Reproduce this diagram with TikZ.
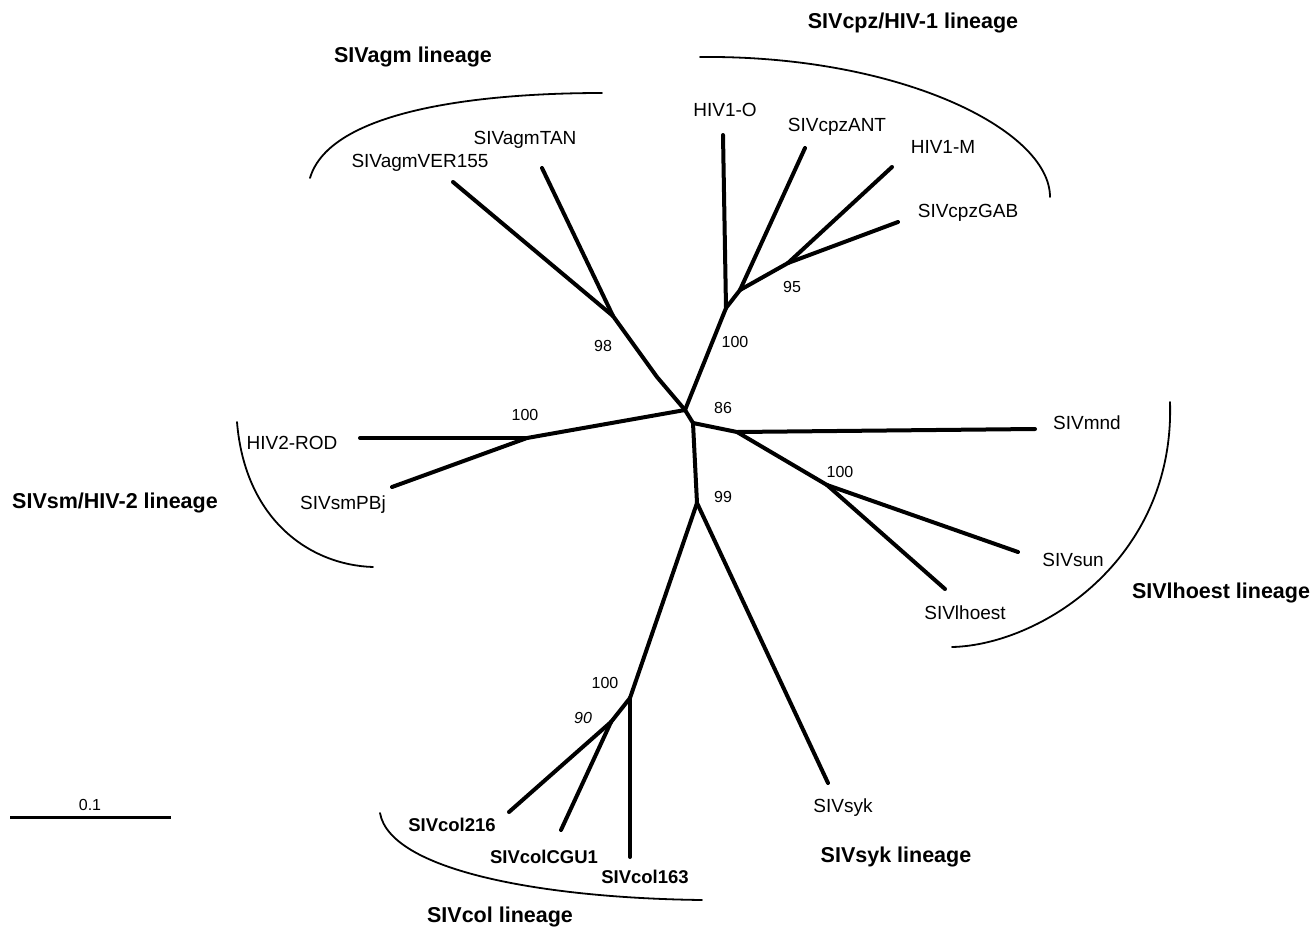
\documentclass[tikz,border=0pt]{standalone}
\usepackage{fontspec}
\setmainfont{Liberation Sans}
\begin{document}
\begin{tikzpicture}[x=1pt,y=-1pt,
  branch/.style={line width=4pt,line cap=round,line join=round},
  arcline/.style={line width=1.8pt,line cap=round},
  leaf/.style={font=\fontsize{19}{22}\selectfont,inner sep=0pt},
  leafb/.style={font=\fontsize{18.5}{22}\selectfont\bfseries,inner sep=0pt},
  lineage/.style={font=\fontsize{21.5}{25}\selectfont\bfseries,inner sep=0pt},
  boot/.style={font=\fontsize{16}{19}\selectfont,inner sep=0pt}]
\useasboundingbox (0,0) rectangle (1314,926);
% internal nodes and tips
\coordinate (A) at (685,410);
\coordinate (B) at (693,423);
\coordinate (agmBend) at (657,377);
\coordinate (agm98) at (613,316);
\coordinate (verTip) at (453,182);
\coordinate (tanTip) at (542,168);
\coordinate (cpz100) at (726,308);
\coordinate (hivoTip) at (723,135);
\coordinate (cpzN) at (740,290);
\coordinate (antTip) at (805,148);
\coordinate (n95) at (788,263);
\coordinate (hivmTip) at (892,167);
\coordinate (gabTip) at (898,222);
\coordinate (hivtwoN) at (527,438);
\coordinate (rodTip) at (360,438);
\coordinate (pbjTip) at (392,487);
\coordinate (n86) at (737,432);
\coordinate (mndTip) at (1035,429);
\coordinate (lh100) at (827,485);
\coordinate (sunTip) at (1018,552);
\coordinate (lhTip) at (945,589);
\coordinate (n99) at (697,503);
\coordinate (sykTip) at (828,783);
\coordinate (col100) at (630,698);
\coordinate (col90) at (611,722);
\coordinate (cTwoTip) at (509,812);
\coordinate (cguTip) at (561,830);
\coordinate (cOneTip) at (630,857);
\coordinate (barL) at (10,817);
\coordinate (barR) at (171,817);
% branches
\draw[branch] (A) -- (B);
\draw[branch] (A) -- (agmBend) -- (agm98);
\draw[branch] (agm98) -- (verTip);
\draw[branch] (agm98) -- (tanTip);
\draw[branch] (A) -- (cpz100);
\draw[branch] (cpz100) -- (hivoTip);
\draw[branch] (cpz100) -- (cpzN);
\draw[branch] (cpzN) -- (antTip);
\draw[branch] (cpzN) -- (n95);
\draw[branch] (n95) -- (hivmTip);
\draw[branch] (n95) -- (gabTip);
\draw[branch] (A) -- (hivtwoN);
\draw[branch] (hivtwoN) -- (rodTip);
\draw[branch] (hivtwoN) -- (pbjTip);
\draw[branch] (B) -- (n86);
\draw[branch] (n86) -- (mndTip);
\draw[branch] (n86) -- (lh100);
\draw[branch] (lh100) -- (sunTip);
\draw[branch] (lh100) -- (lhTip);
\draw[branch] (B) -- (n99);
\draw[branch] (n99) -- (sykTip);
\draw[branch] (n99) -- (col100);
\draw[branch] (col100) -- (col90);
\draw[branch] (col100) -- (cOneTip);
\draw[branch] (col90) -- (cTwoTip);
\draw[branch] (col90) -- (cguTip);
\draw[line width=3pt] (barL) -- (barR);
% lineage arcs
\draw[arcline] (310,178) .. controls (330,110) and (480,93) .. (602,93);
\draw[arcline] (700,57) .. controls (900,55) and (1050,130) .. (1050,197);
\draw[arcline] (237,422) .. controls (245,520) and (310,565) .. (373,567);
\draw[arcline] (1170,402) .. controls (1175,560) and (1040,645) .. (952,647);
\draw[arcline] (380,813) .. controls (390,870) and (540,898) .. (702,900);
% lineage names
\node[lineage] (lagm) at (413,57) {SIVagm lineage};
\node[lineage] (lcpz) at (913,23) {SIVcpz/HIV-1 lineage};
\node[lineage] (lsm) at (115,503) {SIVsm/HIV-2 lineage};
\node[lineage] (llh) at (1221,593) {SIVlhoest lineage};
\node[lineage] (lsyk) at (896,857) {SIVsyk lineage};
\node[lineage] (lcol) at (500,917) {SIVcol lineage};
% leaf labels
\node[leaf] (tver) at (420,163) {SIVagmVER155};
\node[leaf] (ttan) at (525,140) {SIVagmTAN};
\node[leaf] (thivo) at (725,110) {HIV1-O};
\node[leaf] (tant) at (837,127) {SIVcpzANT};
\node[leaf] (thivm) at (943,147) {HIV1-M};
\node[leaf] (tgab) at (968,213) {SIVcpzGAB};
\node[leaf] (trod) at (292,443) {HIV2-ROD};
\node[leaf] (tpbj) at (343,505) {SIVsmPBj};
\node[leaf] (tmnd) at (1087,423) {SIVmnd};
\node[leaf] (tsun) at (1073,560) {SIVsun};
\node[leaf] (tlh) at (965,613) {SIVlhoest};
\node[leaf] (tsyk) at (843,808) {SIVsyk};
\node[leafb] (tctwo) at (452,825) {SIVcol216};
\node[leafb] (tcgu) at (544,857) {SIVcolCGU1};
\node[leafb] (tcone) at (645,877) {SIVcol163};
% bootstrap values
\node[boot] (b98) at (603,346) {98};
\node[boot] (bcpz) at (735,342) {100};
\node[boot] (b95) at (792,287) {95};
\node[boot] (b86) at (723,408) {86};
\node[boot] (b99) at (723,497) {99};
\node[boot] (bsm) at (525,415) {100};
\node[boot] (blh) at (840,472) {100};
\node[boot] (bcol) at (605,683) {100};
\node[boot] (b90) at (583,718) {\itshape 90};
\node[boot] (bscale) at (90,805) {0.1};
\end{tikzpicture}
\end{document}
